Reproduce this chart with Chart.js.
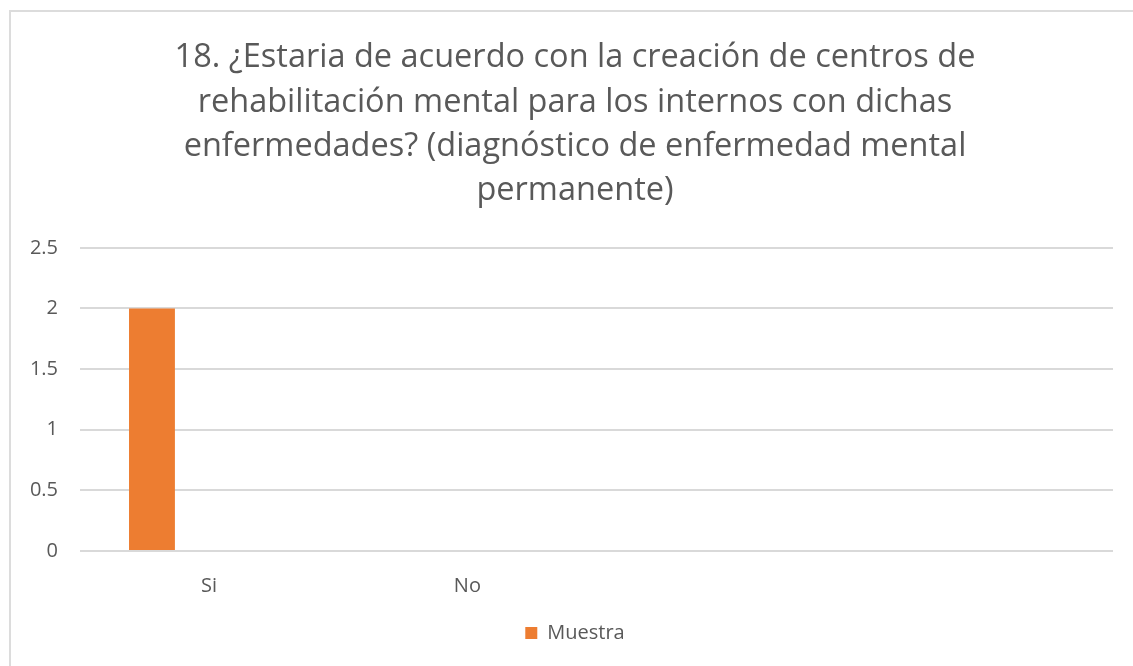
<!DOCTYPE html>
<html>
<head>
<meta charset="utf-8">
<script src="https://cdn.jsdelivr.net/npm/chart.js@4.4.1/dist/chart.umd.min.js"></script>
<style>
  body { margin: 0; background: #fff; }
  #frame {
    position: absolute; left: 9px; top: 10px;
    width: 1140px; height: 680px;
    border: 2px solid #dcdcdc; box-sizing: border-box;
  }
  #wrap {
    position: absolute; left: 11px; top: 12px;
    width: 1102px; height: 668px;
  }
</style>
</head>
<body>
<div id="frame"></div>
<div id="wrap"><canvas id="chart"></canvas></div>
<script>
// data
var categories = ['Si', 'No', '', ''];
var muestra = [2, 0, null, null];
var titleLines = [
    '18. ¿Estaria de acuerdo con la creación de centros de',
    'rehabilitación mental para los internos con dichas',
    'enfermedades? (diagnóstico de enfermedad mental',
    'permanente)'
];
var yTicks = { min: 0, max: 2.5, step: 0.5 };

var textColor = '#595959';
var gridColor = '#d9d9d9';
var fontFamily = '"Open Sans", sans-serif';

// empty series keep the orange bar at the left of its cluster (as in the source)
var empty = categories.map(function () { return null; });

// let the y labels spill into the left padding instead of being clipped
var widenYLabels = {
    id: 'widenYLabels',
    afterLayout: function (chart) { chart.scales.y.left = 0; }
};

var ctx = document.getElementById('chart').getContext('2d');
var myChart = new Chart(ctx, {
    type: 'bar',
    data: {
        labels: categories,
        datasets: [{
            label: 'Muestra',
            data: muestra,
            backgroundColor: '#ED7D31',
            borderWidth: 0,
            categoryPercentage: 0.664,
            barPercentage: 0.803
        }, {
            label: '_a',
            data: empty,
            backgroundColor: 'rgba(0,0,0,0)',
            categoryPercentage: 0.664,
            barPercentage: 0.803
        }, {
            label: '_b',
            data: empty,
            backgroundColor: 'rgba(0,0,0,0)',
            categoryPercentage: 0.664,
            barPercentage: 0.803
        }]
    },
    plugins: [widenYLabels],
    options: {
        responsive: true,
        maintainAspectRatio: false,
        animation: false,
        layout: { padding: { left: 26, right: 0, top: 24, bottom: 27 } },
        plugins: {
            tooltip: { enabled: false },
            title: {
                display: true,
                text: titleLines,
                color: textColor,
                font: { family: fontFamily, size: 32.5, weight: 'normal', lineHeight: 1.36 },
                padding: { top: 0, bottom: 35 }
            },
            legend: {
                position: 'bottom',
                labels: {
                    color: textColor,
                    font: { family: fontFamily, size: 20 },
                    boxWidth: 12,
                    boxHeight: 12,
                    padding: 10,
                    filter: function (item) { return item.text.charAt(0) !== '_'; }
                }
            }
        },
        scales: {
            x: {
                grid: { display: false },
                border: { display: false },
                ticks: { color: textColor, font: { family: fontFamily, size: 20 }, padding: 15 }
            },
            y: {
                min: yTicks.min,
                max: yTicks.max,
                ticks: {
                    stepSize: yTicks.step,
                    color: textColor,
                    font: { family: fontFamily, size: 20 },
                    padding: 22,
                    callback: function (v) { return String(v); }
                },
                grid: { color: gridColor, lineWidth: 2, drawTicks: false },
                border: { display: false },
                afterFit: function (scale) { scale.width = 43; }
            }
        }
    }
});
</script>
</body>
</html>
